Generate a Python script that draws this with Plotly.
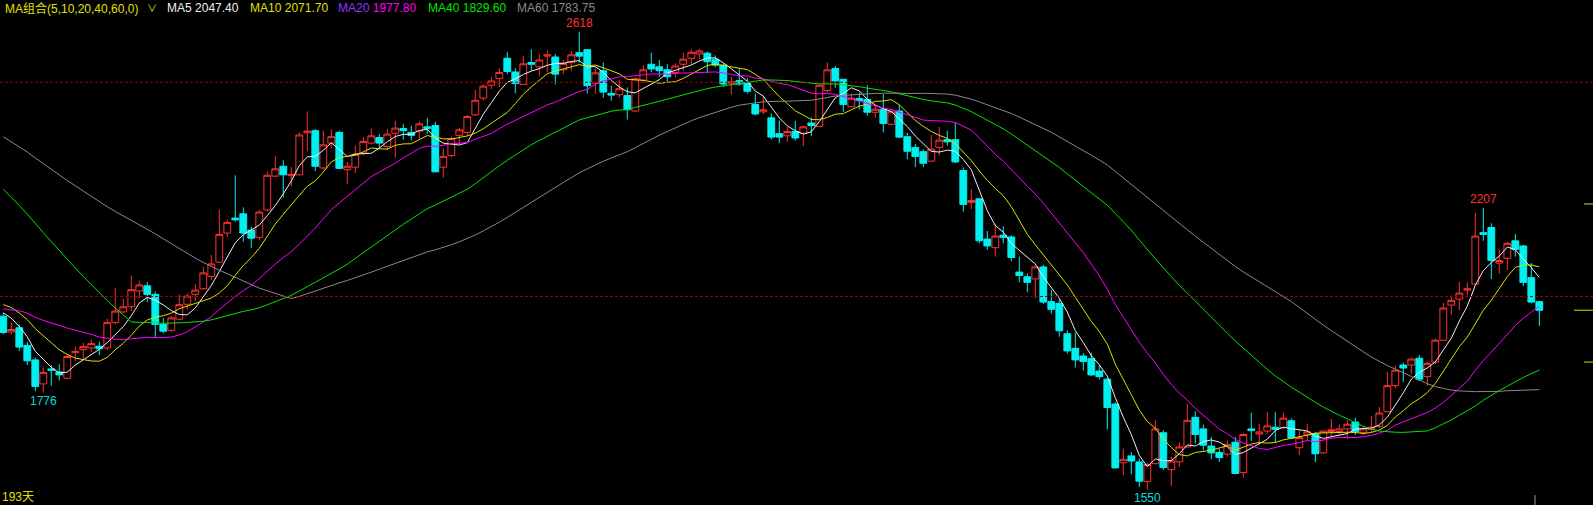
import pandas as pd
import plotly.graph_objects as go

# ---------------- data ----------------
open_ = [
    1954, 1917, 1927, 1886, 1852, 1796, 1831, 1824, 1809, 1869,
    1876, 1880, 1884, 1880, 1939, 1964, 1976, 2013, 2025, 2005,
    1935, 1921, 1947, 1982, 2005, 2018, 2047, 2080, 2148, 2183,
    2193, 2155, 2138, 2202, 2281, 2304, 2282, 2284, 2382, 2387,
    2300, 2358, 2383, 2296, 2302, 2335, 2358, 2371, 2350, 2381,
    2392, 2383, 2386, 2396, 2399, 2302, 2329, 2376, 2383, 2424,
    2463, 2493, 2509, 2556, 2524, 2495, 2546, 2536, 2561, 2559,
    2529, 2546, 2569, 2576, 2498, 2527, 2474, 2471, 2469, 2433,
    2505, 2542, 2536, 2529, 2523, 2542, 2556, 2566, 2568, 2554,
    2540, 2498, 2504, 2498, 2448, 2431, 2417, 2380, 2375, 2385,
    2381, 2405, 2397, 2481, 2532, 2507, 2443, 2462, 2460, 2430,
    2437, 2402, 2433, 2373, 2348, 2338, 2316, 2348, 2366, 2366,
    2294, 2219, 2228, 2134, 2114, 2143, 2139, 2057, 2046, 2041,
    2069, 1988, 1984, 1913, 1879, 1861, 1855, 1826, 1807, 1749,
    1612, 1628, 1614, 1568, 1610, 1682, 1596, 1614, 1649, 1718,
    1691, 1651, 1636, 1632, 1660, 1589, 1691, 1679, 1686, 1695,
    1694, 1710, 1647, 1677, 1680, 1635, 1685, 1685, 1691, 1707,
    1683, 1690, 1697, 1731, 1792, 1840, 1840, 1856, 1813, 1847,
    1898, 1980, 1994, 2015, 2029, 2149, 2161, 2078, 2089, 2130,
    2118, 2044, 1988,
]
high = [
    1962, 1939, 1935, 1894, 1858, 1834, 1840, 1842, 1865, 1883,
    1892, 1900, 1894, 1948, 2020, 1995, 2049, 2037, 2034, 2012,
    1950, 1954, 2005, 2007, 2029, 2069, 2097, 2203, 2179, 2283,
    2208, 2163, 2202, 2291, 2327, 2318, 2302, 2383, 2432, 2391,
    2387, 2390, 2387, 2314, 2352, 2372, 2392, 2379, 2391, 2410,
    2403, 2399, 2408, 2417, 2408, 2345, 2373, 2393, 2424, 2482,
    2495, 2512, 2533, 2571, 2533, 2561, 2577, 2566, 2575, 2566,
    2552, 2573, 2618, 2577, 2533, 2546, 2492, 2505, 2488, 2512,
    2540, 2569, 2552, 2542, 2544, 2569, 2577, 2578, 2572, 2563,
    2544, 2512, 2531, 2510, 2474, 2469, 2427, 2411, 2396, 2410,
    2399, 2418, 2495, 2546, 2538, 2508, 2474, 2476, 2493, 2445,
    2472, 2437, 2447, 2382, 2356, 2343, 2377, 2396, 2387, 2406,
    2301, 2250, 2230, 2153, 2170, 2164, 2143, 2093, 2054, 2072,
    2074, 2016, 1993, 1921, 1916, 1868, 1869, 1840, 1809, 1753,
    1645, 1637, 1622, 1612, 1711, 1688, 1626, 1660, 1749, 1732,
    1701, 1672, 1645, 1664, 1672, 1682, 1729, 1703, 1730, 1730,
    1729, 1715, 1688, 1703, 1684, 1687, 1714, 1701, 1711, 1717,
    1697, 1721, 1742, 1824, 1838, 1846, 1857, 1863, 1847, 1902,
    1985, 2002, 2034, 2033, 2195, 2207, 2171, 2110, 2128, 2146,
    2120, 2078, 1990,
]
low = [
    1912, 1912, 1873, 1840, 1779, 1776, 1792, 1804, 1807, 1850,
    1854, 1871, 1863, 1875, 1935, 1961, 1966, 1997, 1987, 1904,
    1914, 1917, 1945, 1970, 1989, 2016, 2039, 2078, 2138, 2175,
    2128, 2113, 2131, 2198, 2279, 2231, 2257, 2283, 2339, 2293,
    2296, 2345, 2298, 2262, 2288, 2329, 2355, 2345, 2341, 2324,
    2366, 2364, 2368, 2380, 2290, 2277, 2325, 2356, 2376, 2422,
    2457, 2484, 2488, 2519, 2474, 2494, 2527, 2515, 2523, 2495,
    2519, 2527, 2546, 2474, 2473, 2464, 2457, 2464, 2413, 2431,
    2500, 2523, 2513, 2498, 2512, 2527, 2542, 2554, 2521, 2535,
    2490, 2471, 2492, 2474, 2423, 2425, 2366, 2358, 2361, 2364,
    2351, 2374, 2396, 2476, 2487, 2431, 2442, 2436, 2422, 2417,
    2383, 2399, 2369, 2320, 2302, 2302, 2314, 2329, 2352, 2312,
    2198, 2204, 2124, 2109, 2093, 2124, 2082, 2033, 2010, 1996,
    1983, 1960, 1906, 1867, 1834, 1827, 1814, 1806, 1690, 1599,
    1583, 1585, 1555, 1550, 1608, 1595, 1558, 1602, 1647, 1657,
    1641, 1620, 1614, 1626, 1585, 1577, 1663, 1654, 1680, 1660,
    1691, 1668, 1630, 1664, 1613, 1633, 1672, 1676, 1667, 1677,
    1677, 1683, 1693, 1730, 1786, 1801, 1819, 1803, 1792, 1842,
    1896, 1958, 1968, 2002, 2028, 2130, 2041, 2053, 2062, 2093,
    2024, 1984, 1931,
]
close = [
    1916, 1923, 1882, 1850, 1790, 1823, 1828, 1817, 1860, 1872,
    1883, 1890, 1878, 1939, 1966, 1976, 2016, 2027, 2005, 1935,
    1919, 1950, 1981, 2001, 2015, 2055, 2076, 2145, 2173, 2179,
    2148, 2136, 2197, 2283, 2298, 2284, 2285, 2377, 2386, 2304,
    2354, 2373, 2299, 2304, 2332, 2362, 2375, 2358, 2379, 2393,
    2387, 2376, 2403, 2392, 2291, 2327, 2369, 2389, 2420, 2458,
    2491, 2503, 2523, 2525, 2497, 2543, 2542, 2552, 2564, 2519,
    2544, 2564, 2561, 2492, 2522, 2477, 2470, 2485, 2436, 2508,
    2529, 2531, 2527, 2513, 2538, 2554, 2570, 2573, 2548, 2540,
    2496, 2501, 2496, 2479, 2426, 2436, 2372, 2372, 2385, 2370,
    2396, 2399, 2493, 2529, 2503, 2448, 2463, 2457, 2430, 2437,
    2404, 2431, 2372, 2339, 2327, 2311, 2344, 2365, 2361, 2314,
    2215, 2224, 2130, 2118, 2141, 2138, 2091, 2049, 2033, 2069,
    1987, 1970, 1920, 1873, 1852, 1848, 1817, 1813, 1741, 1600,
    1620, 1616, 1569, 1608, 1691, 1601, 1616, 1649, 1711, 1678,
    1653, 1635, 1624, 1655, 1587, 1678, 1687, 1684, 1698, 1690,
    1716, 1670, 1671, 1684, 1633, 1686, 1689, 1691, 1702, 1685,
    1691, 1695, 1728, 1792, 1828, 1833, 1854, 1807, 1844, 1898,
    1973, 1991, 2008, 2018, 2141, 2145, 2084, 2084, 2124, 2110,
    2033, 1987, 1968,
]
# closes before the visible window (estimated from the MA lines' starting levels)
prior_closes = [
    2600, 2590, 2610, 2625, 2640, 2630, 2615, 2600, 2605, 2620,
    2635, 2645, 2630, 2620, 2610, 2600, 2615, 2630, 2640, 2620,
    2640, 2655, 2670, 2680, 2665, 2650, 2660, 2675, 2690, 2670,
    2655, 2645, 2660, 2670, 2650, 2635,
    2080, 1990, 1960, 1980,
    1950, 1940, 1965, 1980, 1970, 1955, 1945, 1960, 1975, 1970,
    1990, 2010, 2005, 2000, 1995,
    1985, 1980, 1970, 1959,
]
ma_periods = [5, 10, 20, 40, 60]
header_values = ["2047.40", "2071.70", "1977.80", "1829.60", "1783.75"]
ref_levels = [2500, 2000]
right_marks = [2216, 1847]
high_label_idx = [72, 185]
low_label_idx = [5, 143]

# ---------------- styles ----------------
UP = "#ff3232"
DOWN = "#00f0f0"
ma_colors = ["#f0f0f0", "#e0e000", "#ff00ff", "#00e600", "#8a8a8a"]
label_colors = ["#f0f0f0", "#e0e000", "#9a30ff", "#00e600", "#8a8a8a"]
FONT = "Liberation Sans, Arial, Noto Sans CJK SC, sans-serif"
W, H = 1593, 505

n = len(close)
x = list(range(n))

fig = go.Figure()
fig.add_trace(go.Candlestick(
    x=x, open=open_, high=high, low=low, close=close,
    increasing=dict(line=dict(color=UP, width=1), fillcolor="#000000"),
    decreasing=dict(line=dict(color=DOWN, width=1), fillcolor=DOWN),
    whiskerwidth=0, hoverinfo="skip", showlegend=False,
))

all_close = pd.Series(prior_closes + close, dtype=float)
k = len(prior_closes)
for p, col in zip(ma_periods, ma_colors):
    ma = all_close.rolling(p).mean().iloc[k:].tolist()
    fig.add_trace(go.Scatter(x=x, y=ma, mode="lines",
                             line=dict(color=col, width=1),
                             hoverinfo="skip", showlegend=False))

shapes = []
for lv in ref_levels:
    shapes.append(dict(type="line", xref="paper", x0=0, x1=1, yref="y", y0=lv, y1=lv,
                       line=dict(color="#9a0000", width=1, dash="3px,2px")))
for lv in right_marks:
    shapes.append(dict(type="line", xref="paper", x0=1584 / W, x1=1, yref="y", y0=lv, y1=lv,
                       line=dict(color="#d8d800", width=1)))
shapes.append(dict(type="line", xref="paper", x0=1574 / W, x1=1, yref="y",
                   y0=close[-1], y1=close[-1], line=dict(color="#d8d800", width=1)))
shapes.append(dict(type="line", xref="paper", x0=1535 / W, x1=1535 / W, yref="paper",
                   y0=0, y1=10 / H, line=dict(color="#9a9a9a", width=1)))

ann = []
ytop = 1 - 8 / H
ann.append(dict(xref="paper", yref="paper", x=3 / W, y=ytop, xanchor="left", yanchor="middle",
                text="MA组合(5,10,20,40,60,0)", showarrow=False,
                font=dict(family=FONT, size=12, color="#e0e000")))
ann.append(dict(xref="paper", yref="paper", x=152 / W, y=ytop, xanchor="center", yanchor="middle",
                text="∨", showarrow=False, font=dict(family=FONT, size=10, color="#e0e000")))
header_x = [165, 248, 336, 426, 515]
for p, v, lc, vc, hx in zip(ma_periods, header_values, label_colors, ma_colors, header_x):
    ann.append(dict(xref="paper", yref="paper", x=hx / W, y=ytop, xanchor="left", yanchor="middle",
                    text=f'<span style="color:{lc}">MA{p}</span> <span style="color:{vc}">{v}</span>',
                    showarrow=False, font=dict(family=FONT, size=12, color=vc)))
for i in high_label_idx:
    ann.append(dict(x=i, y=high[i], xref="x", yref="y", text=str(high[i]), showarrow=False,
                    yanchor="bottom", xanchor="center", font=dict(family=FONT, size=12, color=UP)))
for i in low_label_idx:
    ann.append(dict(x=i, y=low[i], xref="x", yref="y", text=str(low[i]), showarrow=False,
                    yanchor="top", xanchor="center", font=dict(family=FONT, size=12, color="#00dede")))
ann.append(dict(xref="paper", yref="paper", x=0, y=1 - 497 / H, xanchor="left", yanchor="middle",
                text=f"{n}天", showarrow=False, font=dict(family=FONT, size=12, color="#e0e000")))

fig.update_layout(
    width=W, height=H, margin=dict(l=0, r=0, t=0, b=0),
    paper_bgcolor="#000000", plot_bgcolor="#000000",
    boxgap=0.15, boxgroupgap=0,
    shapes=shapes, annotations=ann, showlegend=False,
    xaxis=dict(range=[-0.41, 198.71], visible=False, rangeslider=dict(visible=False),
               showgrid=False, zeroline=False, fixedrange=True),
    yaxis=dict(range=[1513.4, 2692.0], visible=False, showgrid=False, zeroline=False,
               fixedrange=True),
)
fig.write_html("out.html", config={"displayModeBar": False})

# remove the default page margin so the figure fills the window exactly
with open("out.html", "r", encoding="utf-8") as f:
    page = f.read()
page = page.replace("<head>", "<head><style>html,body{margin:0;padding:0;background:#000;overflow:hidden;}</style>", 1)
with open("out.html", "w", encoding="utf-8") as f:
    f.write(page)
